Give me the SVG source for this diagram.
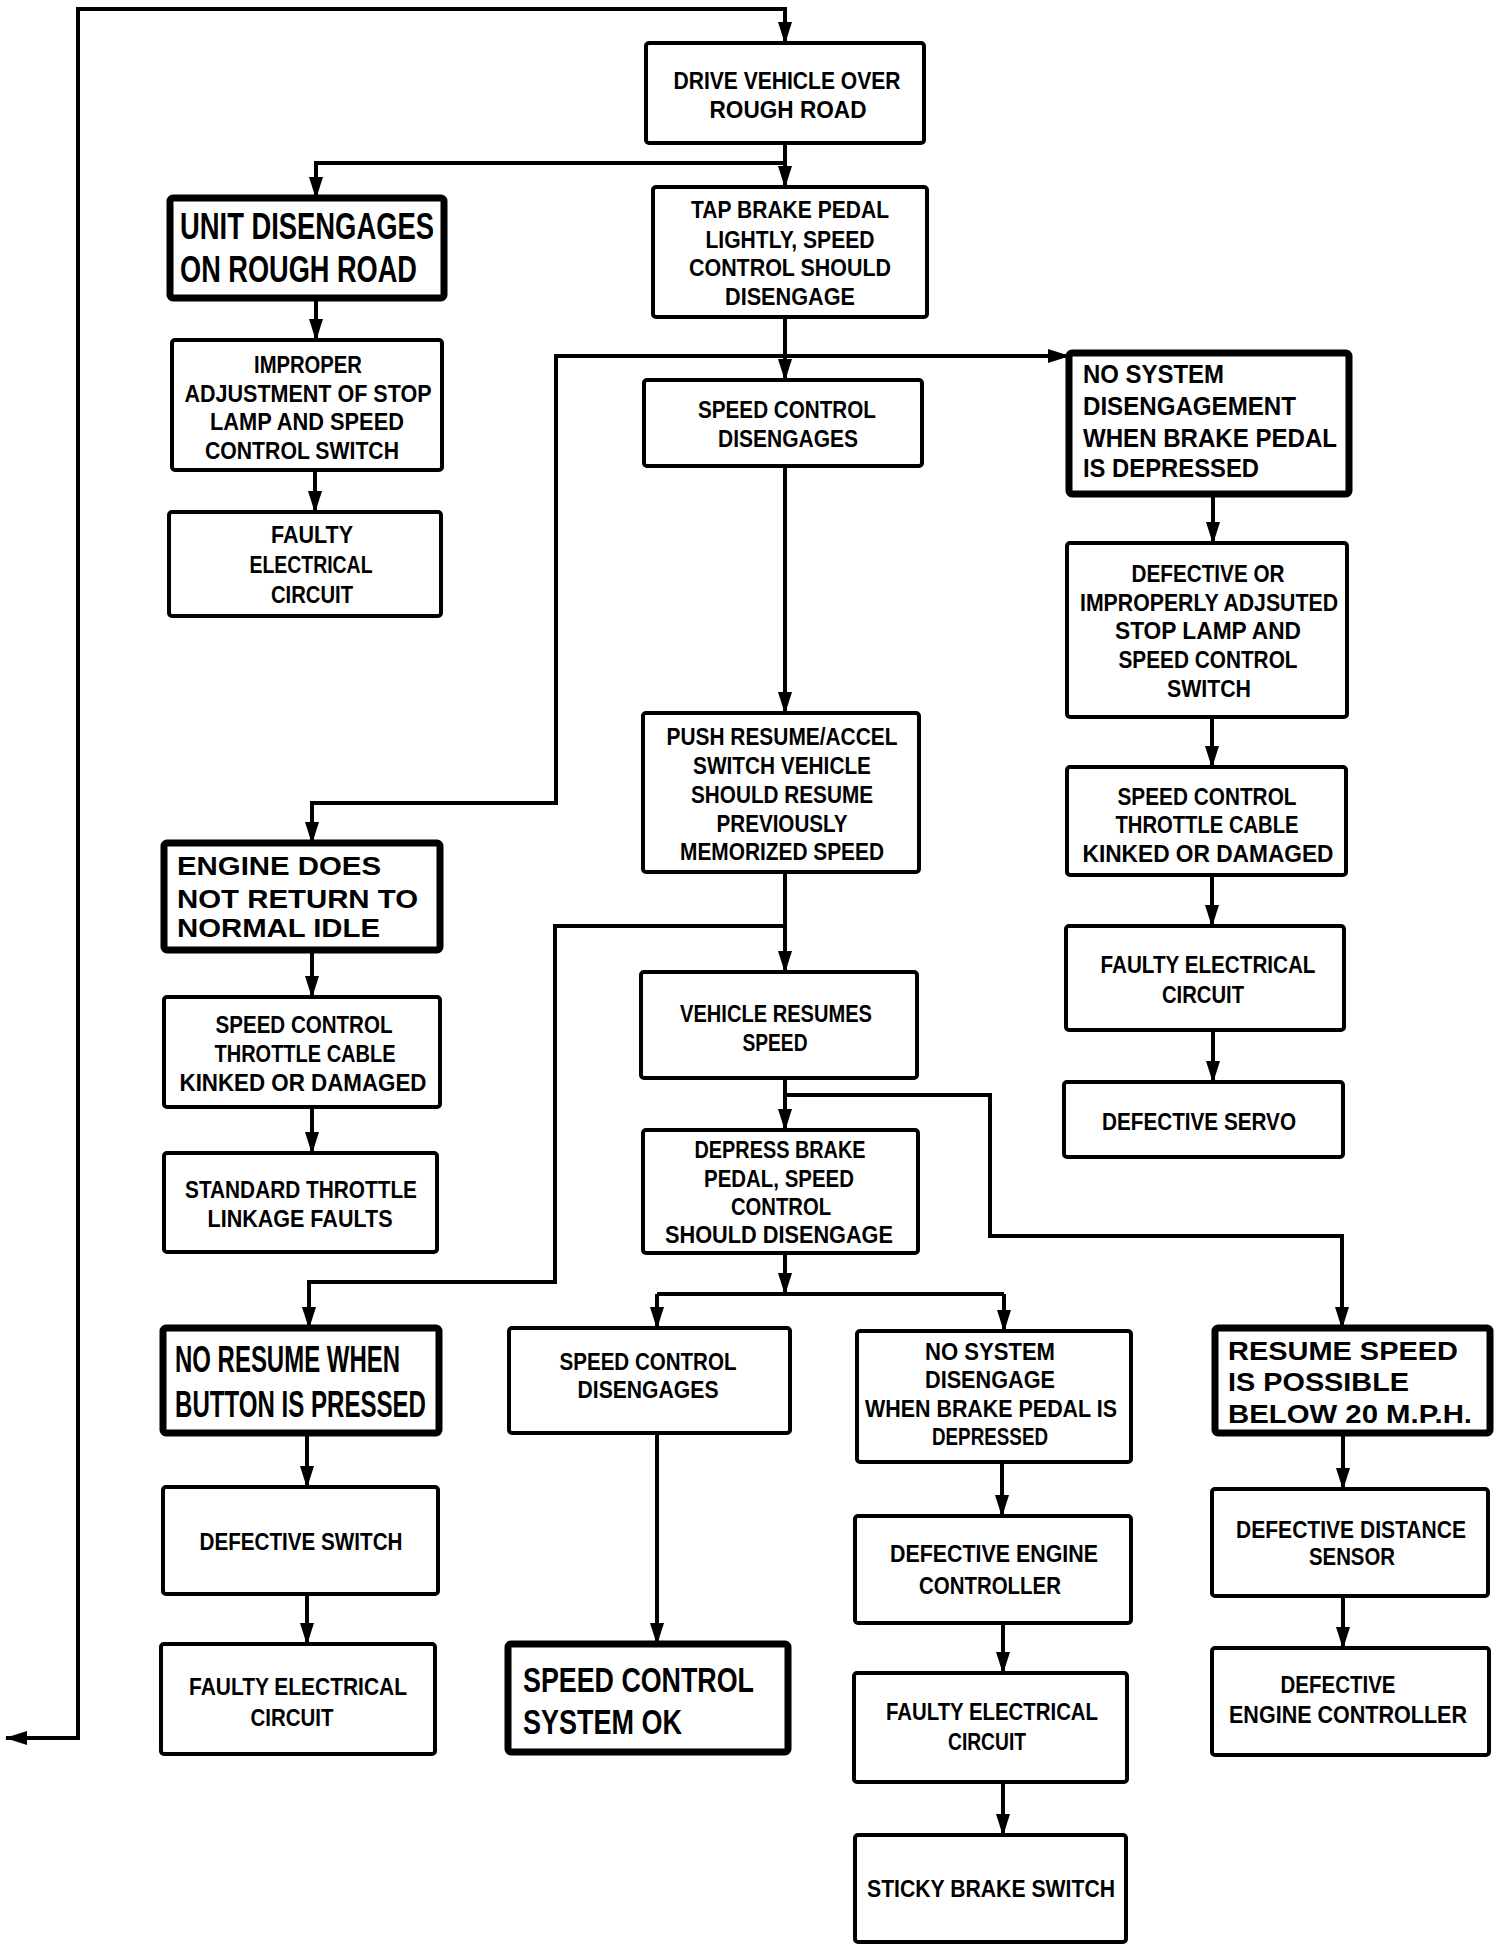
<svg xmlns="http://www.w3.org/2000/svg" width="1504" height="1950" viewBox="0 0 1504 1950">
<style>
.bg{fill:#fff}
.box{fill:#fff;stroke:#000;stroke-width:4}
.thick{stroke-width:7}
.c{fill:none;stroke:#000;stroke-width:4;stroke-linejoin:miter}
text{font-family:"Liberation Sans",Arial,sans-serif;font-weight:bold;fill:#000}
.t{font-size:23px;text-anchor:middle}
.m{font-size:26px;text-anchor:start}
.b{font-size:37px;text-anchor:start}
</style>
<defs>
<marker id="ah" viewBox="0 0 22 16" refX="21" refY="8" markerWidth="22" markerHeight="16" markerUnits="userSpaceOnUse" orient="auto">
<path d="M0,1 L22,8 L0,15 z" fill="#000"/>
</marker>
</defs>
<rect class="bg" x="0" y="0" width="1504" height="1950"/>
<g id="connectors">
<path class="c" d="M78,1738 L78,9 L785,9 L785,43" marker-end="url(#ah)"/>
<path class="c" d="M80,1738 L6,1738" marker-end="url(#ah)"/>
<path class="c" d="M785,143 L785,187" marker-end="url(#ah)"/>
<path class="c" d="M785,163 L316,163 L316,198" marker-end="url(#ah)"/>
<path class="c" d="M316,298 L316,340" marker-end="url(#ah)"/>
<path class="c" d="M315,470 L315,512" marker-end="url(#ah)"/>
<path class="c" d="M785,317 L785,380" marker-end="url(#ah)"/>
<path class="c" d="M785,356 L1069,356" marker-end="url(#ah)"/>
<path class="c" d="M785,356 L556,356 L556,803 L312,803 L312,843" marker-end="url(#ah)"/>
<path class="c" d="M785,466 L785,713" marker-end="url(#ah)"/>
<path class="c" d="M1213,494 L1213,543" marker-end="url(#ah)"/>
<path class="c" d="M1212,717 L1212,767" marker-end="url(#ah)"/>
<path class="c" d="M1212,875 L1212,926" marker-end="url(#ah)"/>
<path class="c" d="M1213,1030 L1213,1082" marker-end="url(#ah)"/>
<path class="c" d="M785,872 L785,972" marker-end="url(#ah)"/>
<path class="c" d="M785,926 L555,926 L555,1282 L309,1282 L309,1328" marker-end="url(#ah)"/>
<path class="c" d="M312,950 L312,997" marker-end="url(#ah)"/>
<path class="c" d="M312,1107 L312,1153" marker-end="url(#ah)"/>
<path class="c" d="M785,1078 L785,1130" marker-end="url(#ah)"/>
<path class="c" d="M785,1095 L990,1095 L990,1236 L1342,1236 L1342,1328" marker-end="url(#ah)"/>
<path class="c" d="M785,1253 L785,1294" marker-end="url(#ah)"/>
<path class="c" d="M657,1294 L1004,1294"/>
<path class="c" d="M657,1294 L657,1328" marker-end="url(#ah)"/>
<path class="c" d="M1004,1294 L1004,1331" marker-end="url(#ah)"/>
<path class="c" d="M307,1433 L307,1487" marker-end="url(#ah)"/>
<path class="c" d="M307,1594 L307,1644" marker-end="url(#ah)"/>
<path class="c" d="M657,1433 L657,1644" marker-end="url(#ah)"/>
<path class="c" d="M1002,1462 L1002,1516" marker-end="url(#ah)"/>
<path class="c" d="M1003,1623 L1003,1673" marker-end="url(#ah)"/>
<path class="c" d="M1003,1782 L1003,1835" marker-end="url(#ah)"/>
<path class="c" d="M1343,1433 L1343,1489" marker-end="url(#ah)"/>
<path class="c" d="M1343,1596 L1343,1648" marker-end="url(#ah)"/>
</g>
<g id="n_drive"><rect class="box" x="646" y="43" width="278" height="100" rx="3"/>
<text class="t" x="787" y="89" textLength="227" lengthAdjust="spacingAndGlyphs">DRIVE VEHICLE OVER</text>
<text class="t" x="788" y="118" textLength="157" lengthAdjust="spacingAndGlyphs">ROUGH ROAD</text></g>
<g id="n_unit"><rect class="box thick" x="170" y="198" width="274" height="100" rx="3"/>
<text class="b" x="180" y="239" textLength="254" lengthAdjust="spacingAndGlyphs">UNIT DISENGAGES</text>
<text class="b" x="180" y="282" textLength="237" lengthAdjust="spacingAndGlyphs">ON ROUGH ROAD</text></g>
<g id="n_tap"><rect class="box" x="653" y="187" width="274" height="130" rx="3"/>
<text class="t" x="790" y="218" textLength="198" lengthAdjust="spacingAndGlyphs">TAP BRAKE PEDAL</text>
<text class="t" x="790" y="248" textLength="169" lengthAdjust="spacingAndGlyphs">LIGHTLY, SPEED</text>
<text class="t" x="790" y="276" textLength="202" lengthAdjust="spacingAndGlyphs">CONTROL SHOULD</text>
<text class="t" x="790" y="305" textLength="130" lengthAdjust="spacingAndGlyphs">DISENGAGE</text></g>
<g id="n_improper"><rect class="box" x="172" y="340" width="270" height="130" rx="3"/>
<text class="t" x="308" y="373" textLength="108" lengthAdjust="spacingAndGlyphs">IMPROPER</text>
<text class="t" x="308" y="402" textLength="247" lengthAdjust="spacingAndGlyphs">ADJUSTMENT OF STOP</text>
<text class="t" x="307" y="430" textLength="194" lengthAdjust="spacingAndGlyphs">LAMP AND SPEED</text>
<text class="t" x="302" y="459" textLength="194" lengthAdjust="spacingAndGlyphs">CONTROL SWITCH</text></g>
<g id="n_faulty1"><rect class="box" x="169" y="512" width="272" height="104" rx="3"/>
<text class="t" x="312" y="543" textLength="82" lengthAdjust="spacingAndGlyphs">FAULTY</text>
<text class="t" x="311" y="573" textLength="123" lengthAdjust="spacingAndGlyphs">ELECTRICAL</text>
<text class="t" x="312" y="603" textLength="82" lengthAdjust="spacingAndGlyphs">CIRCUIT</text></g>
<g id="n_scd1"><rect class="box" x="644" y="380" width="278" height="86" rx="3"/>
<text class="t" x="787" y="418" textLength="178" lengthAdjust="spacingAndGlyphs">SPEED CONTROL</text>
<text class="t" x="788" y="447" textLength="140" lengthAdjust="spacingAndGlyphs">DISENGAGES</text></g>
<g id="n_nosys1"><rect class="box thick" x="1069" y="353" width="280" height="141" rx="3"/>
<text class="m" x="1083" y="383" textLength="141" lengthAdjust="spacingAndGlyphs">NO SYSTEM</text>
<text class="m" x="1083" y="415" textLength="213" lengthAdjust="spacingAndGlyphs">DISENGAGEMENT</text>
<text class="m" x="1083" y="447" textLength="254" lengthAdjust="spacingAndGlyphs">WHEN BRAKE PEDAL</text>
<text class="m" x="1083" y="477" textLength="176" lengthAdjust="spacingAndGlyphs">IS DEPRESSED</text></g>
<g id="n_defor"><rect class="box" x="1067" y="543" width="280" height="174" rx="3"/>
<text class="t" x="1208" y="582" textLength="153" lengthAdjust="spacingAndGlyphs">DEFECTIVE OR</text>
<text class="t" x="1209" y="611" textLength="258" lengthAdjust="spacingAndGlyphs">IMPROPERLY ADJSUTED</text>
<text class="t" x="1208" y="639" textLength="186" lengthAdjust="spacingAndGlyphs">STOP LAMP AND</text>
<text class="t" x="1208" y="668" textLength="179" lengthAdjust="spacingAndGlyphs">SPEED CONTROL</text>
<text class="t" x="1209" y="697" textLength="84" lengthAdjust="spacingAndGlyphs">SWITCH</text></g>
<g id="n_sct_r"><rect class="box" x="1067" y="767" width="279" height="108" rx="3"/>
<text class="t" x="1207" y="805" textLength="179" lengthAdjust="spacingAndGlyphs">SPEED CONTROL</text>
<text class="t" x="1207" y="833" textLength="183" lengthAdjust="spacingAndGlyphs">THROTTLE CABLE</text>
<text class="t" x="1208" y="862" textLength="251" lengthAdjust="spacingAndGlyphs">KINKED OR DAMAGED</text></g>
<g id="n_faulty_r"><rect class="box" x="1066" y="926" width="278" height="104" rx="3"/>
<text class="t" x="1208" y="973" textLength="215" lengthAdjust="spacingAndGlyphs">FAULTY ELECTRICAL</text>
<text class="t" x="1203" y="1003" textLength="82" lengthAdjust="spacingAndGlyphs">CIRCUIT</text></g>
<g id="n_servo"><rect class="box" x="1064" y="1082" width="279" height="75" rx="3"/>
<text class="t" x="1199" y="1130" textLength="194" lengthAdjust="spacingAndGlyphs">DEFECTIVE SERVO</text></g>
<g id="n_push"><rect class="box" x="643" y="713" width="276" height="159" rx="3"/>
<text class="t" x="782" y="745" textLength="231" lengthAdjust="spacingAndGlyphs">PUSH RESUME/ACCEL</text>
<text class="t" x="782" y="774" textLength="178" lengthAdjust="spacingAndGlyphs">SWITCH VEHICLE</text>
<text class="t" x="782" y="803" textLength="182" lengthAdjust="spacingAndGlyphs">SHOULD RESUME</text>
<text class="t" x="782" y="832" textLength="131" lengthAdjust="spacingAndGlyphs">PREVIOUSLY</text>
<text class="t" x="782" y="860" textLength="204" lengthAdjust="spacingAndGlyphs">MEMORIZED SPEED</text></g>
<g id="n_engine"><rect class="box thick" x="164" y="843" width="276" height="107" rx="3"/>
<text class="m" x="177" y="875" textLength="204" lengthAdjust="spacingAndGlyphs">ENGINE DOES</text>
<text class="m" x="177" y="908" textLength="241" lengthAdjust="spacingAndGlyphs">NOT RETURN TO</text>
<text class="m" x="177" y="937" textLength="203" lengthAdjust="spacingAndGlyphs">NORMAL IDLE</text></g>
<g id="n_sct_l"><rect class="box" x="164" y="997" width="276" height="110" rx="3"/>
<text class="t" x="304" y="1033" textLength="177" lengthAdjust="spacingAndGlyphs">SPEED CONTROL</text>
<text class="t" x="305" y="1062" textLength="181" lengthAdjust="spacingAndGlyphs">THROTTLE CABLE</text>
<text class="t" x="303" y="1091" textLength="247" lengthAdjust="spacingAndGlyphs">KINKED OR DAMAGED</text></g>
<g id="n_standard"><rect class="box" x="164" y="1153" width="273" height="99" rx="3"/>
<text class="t" x="301" y="1198" textLength="232" lengthAdjust="spacingAndGlyphs">STANDARD THROTTLE</text>
<text class="t" x="300" y="1227" textLength="185" lengthAdjust="spacingAndGlyphs">LINKAGE FAULTS</text></g>
<g id="n_vres"><rect class="box" x="641" y="972" width="276" height="106" rx="3"/>
<text class="t" x="776" y="1022" textLength="192" lengthAdjust="spacingAndGlyphs">VEHICLE RESUMES</text>
<text class="t" x="775" y="1051" textLength="65" lengthAdjust="spacingAndGlyphs">SPEED</text></g>
<g id="n_depress"><rect class="box" x="643" y="1130" width="275" height="123" rx="3"/>
<text class="t" x="780" y="1158" textLength="171" lengthAdjust="spacingAndGlyphs">DEPRESS BRAKE</text>
<text class="t" x="779" y="1187" textLength="150" lengthAdjust="spacingAndGlyphs">PEDAL, SPEED</text>
<text class="t" x="781" y="1215" textLength="100" lengthAdjust="spacingAndGlyphs">CONTROL</text>
<text class="t" x="779" y="1243" textLength="228" lengthAdjust="spacingAndGlyphs">SHOULD DISENGAGE</text></g>
<g id="n_noresume"><rect class="box thick" x="163" y="1328" width="276" height="105" rx="3"/>
<text class="b" x="175" y="1372" textLength="225" lengthAdjust="spacingAndGlyphs">NO RESUME WHEN</text>
<text class="b" x="175" y="1417" textLength="251" lengthAdjust="spacingAndGlyphs">BUTTON IS PRESSED</text></g>
<g id="n_scd2"><rect class="box" x="509" y="1328" width="281" height="105" rx="3"/>
<text class="t" x="648" y="1370" textLength="177" lengthAdjust="spacingAndGlyphs">SPEED CONTROL</text>
<text class="t" x="648" y="1398" textLength="141" lengthAdjust="spacingAndGlyphs">DISENGAGES</text></g>
<g id="n_nosys2"><rect class="box" x="857" y="1331" width="274" height="131" rx="3"/>
<text class="t" x="990" y="1360" textLength="130" lengthAdjust="spacingAndGlyphs">NO SYSTEM</text>
<text class="t" x="990" y="1388" textLength="130" lengthAdjust="spacingAndGlyphs">DISENGAGE</text>
<text class="t" x="991" y="1417" textLength="252" lengthAdjust="spacingAndGlyphs">WHEN BRAKE PEDAL IS</text>
<text class="t" x="990" y="1445" textLength="116" lengthAdjust="spacingAndGlyphs">DEPRESSED</text></g>
<g id="n_resume"><rect class="box thick" x="1215" y="1328" width="275" height="105" rx="3"/>
<text class="m" x="1228" y="1360" textLength="230" lengthAdjust="spacingAndGlyphs">RESUME SPEED</text>
<text class="m" x="1228" y="1391" textLength="181" lengthAdjust="spacingAndGlyphs">IS POSSIBLE</text>
<text class="m" x="1228" y="1423" textLength="244" lengthAdjust="spacingAndGlyphs">BELOW 20 M.P.H.</text></g>
<g id="n_defswitch"><rect class="box" x="163" y="1487" width="275" height="107" rx="3"/>
<text class="t" x="301" y="1550" textLength="203" lengthAdjust="spacingAndGlyphs">DEFECTIVE SWITCH</text></g>
<g id="n_faulty_bl"><rect class="box" x="161" y="1644" width="274" height="110" rx="3"/>
<text class="t" x="298" y="1695" textLength="218" lengthAdjust="spacingAndGlyphs">FAULTY ELECTRICAL</text>
<text class="t" x="292" y="1726" textLength="83" lengthAdjust="spacingAndGlyphs">CIRCUIT</text></g>
<g id="n_ok"><rect class="box thick" x="508" y="1644" width="280" height="108" rx="3"/>
<text class="b" x="523" y="1692" style="font-size:35px" textLength="231" lengthAdjust="spacingAndGlyphs">SPEED CONTROL</text>
<text class="b" x="523" y="1734" style="font-size:35px" textLength="159" lengthAdjust="spacingAndGlyphs">SYSTEM OK</text></g>
<g id="n_defeng_c"><rect class="box" x="855" y="1516" width="276" height="107" rx="3"/>
<text class="t" x="994" y="1562" textLength="208" lengthAdjust="spacingAndGlyphs">DEFECTIVE ENGINE</text>
<text class="t" x="990" y="1594" textLength="142" lengthAdjust="spacingAndGlyphs">CONTROLLER</text></g>
<g id="n_faulty_c"><rect class="box" x="854" y="1673" width="273" height="109" rx="3"/>
<text class="t" x="992" y="1720" textLength="212" lengthAdjust="spacingAndGlyphs">FAULTY ELECTRICAL</text>
<text class="t" x="987" y="1750" textLength="78" lengthAdjust="spacingAndGlyphs">CIRCUIT</text></g>
<g id="n_sticky"><rect class="box" x="855" y="1835" width="271" height="107" rx="3"/>
<text class="t" x="991" y="1897" textLength="248" lengthAdjust="spacingAndGlyphs">STICKY BRAKE SWITCH</text></g>
<g id="n_distance"><rect class="box" x="1212" y="1489" width="276" height="107" rx="3"/>
<text class="t" x="1351" y="1538" textLength="230" lengthAdjust="spacingAndGlyphs">DEFECTIVE DISTANCE</text>
<text class="t" x="1352" y="1565" textLength="86" lengthAdjust="spacingAndGlyphs">SENSOR</text></g>
<g id="n_defeng_r"><rect class="box" x="1212" y="1648" width="277" height="107" rx="3"/>
<text class="t" x="1338" y="1693" textLength="115" lengthAdjust="spacingAndGlyphs">DEFECTIVE</text>
<text class="t" x="1348" y="1723" textLength="238" lengthAdjust="spacingAndGlyphs">ENGINE CONTROLLER</text></g>
</svg>
